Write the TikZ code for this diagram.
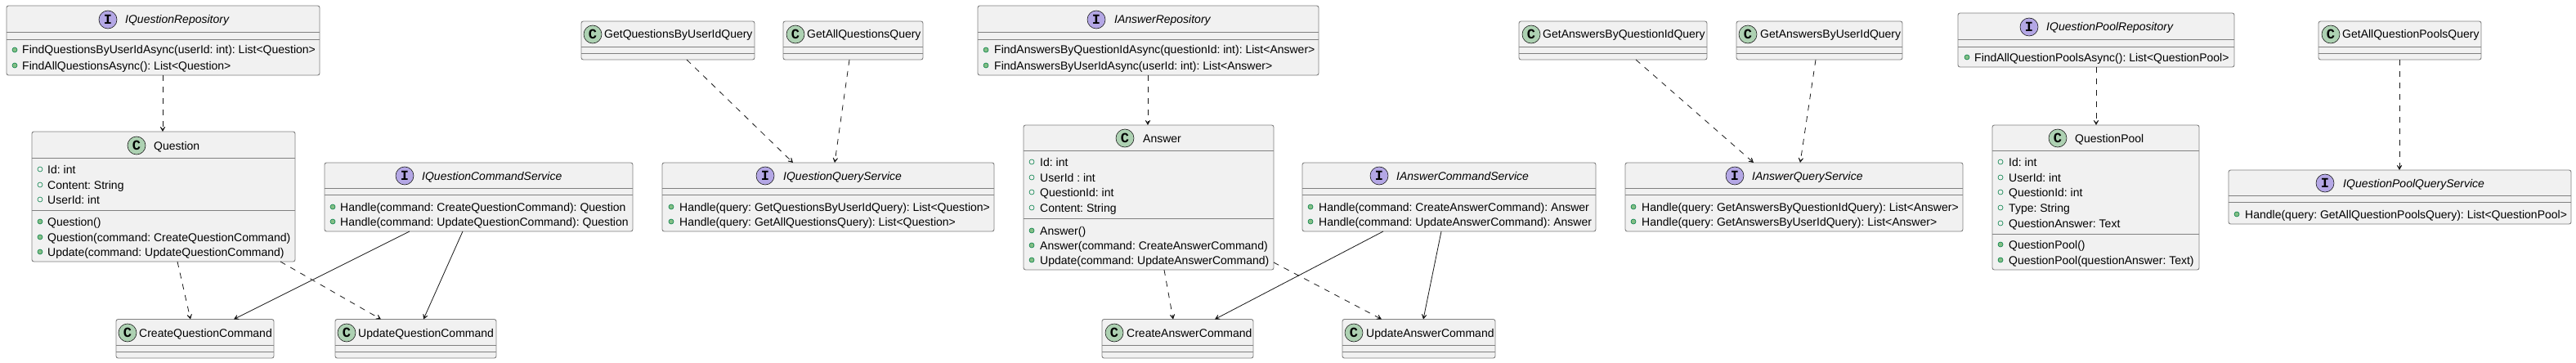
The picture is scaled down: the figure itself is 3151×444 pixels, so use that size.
\documentclass[tikz,border=0pt]{standalone}
\usepackage{fontspec}
\setmainfont{Liberation Sans}
\newfontfamily\iconfamily{Liberation Mono}
\usetikzlibrary{arrows.meta}
\definecolor{lc}{HTML}{181818}
\definecolor{bc}{HTML}{808080}
\definecolor{bg}{HTML}{F1F1F1}
\definecolor{cfill}{HTML}{ADD1B2}
\definecolor{ifill}{HTML}{B4A7E5}
\definecolor{mk}{HTML}{038048}
\definecolor{mkfill}{HTML}{84BE84}
\newcommand\memberfont{\frenchspacing\fontsize{14pt}{16pt}\selectfont}
\newcommand\iconfont{\iconfamily\bfseries\fontsize{17pt}{17pt}\selectfont}
\tikzset{
  umlbox/.style={draw=bc, line width=0.9pt, fill=bg, rounded corners=2.5pt, inner sep=0pt, outer sep=0pt},
  sepline/.style={draw=bc, line width=0.9pt},
  icon/.style={circle, draw=lc, line width=0.6pt, minimum size=22pt, inner sep=0pt, font=\iconfont},
  txt/.style={anchor=base west, inner sep=0pt, font=\memberfont},
  ttl/.style={anchor=base west, inner sep=0pt, font=\memberfont},
  ittl/.style={anchor=base west, inner sep=0pt, font=\memberfont\itshape},
  fieldmk/.style={draw=mk, line width=0.6pt},
  methmk/.style={draw=mk, fill=mkfill, line width=0.6pt},
  dep/.style={draw=lc, line width=0.8pt, dash pattern=on 7pt off 7pt, -{Stealth[length=9pt,width=10pt,inset=6pt]}},
  assoc/.style={draw=lc, line width=0.8pt, -{Stealth[length=9pt,width=10pt,inset=6pt]}},
}
\newcounter{rc}
\newcommand\ubox[5]{\node[umlbox, minimum width={#4pt-#2pt}, minimum height={#5pt-#3pt}] (#1) at ({(#2+#4)/2},{(#3+#5)/2}) {};}
\newcommand\usep[2]{\draw[sepline] (#1.west |- 0,#2) -- (#1.east |- 0,#2);}
\newcommand\cicon[3]{\node[icon, fill=cfill] (#1) at (#2,#3) {C};}
\newcommand\iicon[3]{\node[icon, fill=ifill] (#1) at (#2,#3) {I};}
\newcommand\ctitle[4]{\node[ttl] (#1) at (#2,#3+5) {#4};}
\newcommand\ititle[4]{\node[ittl] (#1) at (#2,#3+5) {#4};}
\newcommand\frow[4]{\stepcounter{rc}\draw[fieldmk] (#1,#3) circle (3pt);\node[txt] (r\arabic{rc}) at (#2,#3+5) {#4};}
\newcommand\mrow[4]{\stepcounter{rc}\filldraw[methmk] (#1,#3) circle (3pt);\node[txt] (r\arabic{rc}) at (#2,#3+5) {#4};}
% small class: name, x1, x2, iconx, textx, text
\newcommand\smallclass[6]{%
  \ubox{#1}{#2}{26}{#3}{73}\usep{#1}{57}\usep{#1}{65}%
  \cicon{#1-i}{#4}{42}\ctitle{#1-t}{#5}{42}{#6}}
\newcommand\cmdclass[6]{%
  \ubox{#1}{#2}{390.5}{#3}{438}\usep{#1}{422}\usep{#1}{430}%
  \cicon{#1-i}{#4}{407}\ctitle{#1-t}{#5}{407}{#6}}
\begin{document}
\begin{tikzpicture}[x=1pt, y=-1pt]
\fill[white] (0,0) rectangle (3151,444);
\useasboundingbox (0,0) rectangle (3151,444);

% ---------- IQuestionRepository
\ubox{iqr}{8}{7}{391}{92}
\usep{iqr}{39}\usep{iqr}{48}
\iicon{iqr-i}{132}{24}
\ititle{iqr-t}{153}{24}{IQuestionRepository}
\mrow{18}{27}{61}{FindQuestionsByUserIdAsync(userId: int): List<Question>}
\mrow{18}{27}{80}{FindAllQuestionsAsync(): List<Question>}

% ---------- Question
\ubox{q}{39}{161}{361}{320}
\usep{q}{193}\usep{q}{257}
\cicon{q-i}{167}{178}
\ctitle{q-t}{188}{178}{Question}
\frow{49}{58}{207}{Id: int}
\frow{49}{58}{226}{Content: String}
\frow{49}{58}{244}{UserId: int}
\mrow{49}{58}{271}{Question()}
\mrow{49}{58}{290}{Question(command: CreateQuestionCommand)}
\mrow{49}{58}{308}{Update(command: UpdateQuestionCommand)}

% ---------- IQuestionCommandService
\ubox{iqcs}{397}{199}{774}{283}
\usep{iqcs}{230}\usep{iqcs}{238}
\iicon{iqcs-i}{495}{215}
\ititle{iqcs-t}{516}{215}{IQuestionCommandService}
\mrow{407}{416}{253}{Handle(command: CreateQuestionCommand): Question}
\mrow{407}{416}{271}{Handle(command: UpdateQuestionCommand): Question}

% ---------- commands (questions)
\cmdclass{cqc}{142}{335}{156}{170}{CreateQuestionCommand}
\cmdclass{uqc}{410}{607}{424}{438}{UpdateQuestionCommand}

% ---------- question queries
\smallclass{gqbu}{711}{923}{725}{739}{GetQuestionsByUserIdQuery}
\smallclass{gaqq}{958}{1129}{973}{987}{GetAllQuestionsQuery}

\ubox{iqqs}{810}{199}{1216}{283}
\usep{iqqs}{230}\usep{iqqs}{238}
\iicon{iqqs-i}{936}{215}
\ititle{iqqs-t}{958}{215}{IQuestionQueryService}
\mrow{821}{831}{253}{Handle(query: GetQuestionsByUserIdQuery): List<Question>}
\mrow{821}{831}{271}{Handle(query: GetAllQuestionsQuery): List<Question>}

% ---------- IAnswerRepository
\ubox{iar}{1196}{7}{1613}{92}
\usep{iar}{39}\usep{iar}{48}
\iicon{iar-i}{1341}{24}
\ititle{iar-t}{1363}{24}{IAnswerRepository}
\mrow{1206}{1216}{61}{FindAnswersByQuestionIdAsync(questionId: int): List<Answer>}
\mrow{1206}{1216}{80}{FindAnswersByUserIdAsync(userId: int): List<Answer>}

% ---------- Answer
\ubox{ans}{1252}{153}{1558}{330}
\usep{ans}{184}\usep{ans}{267}
\cicon{ans-i}{1376}{169}
\ctitle{ans-t}{1398}{169}{Answer}
\frow{1262}{1272}{198}{Id: int}
\frow{1262}{1272}{217}{UserId : int}
\frow{1262}{1272}{235}{QuestionId: int}
\frow{1262}{1272}{254}{Content: String}
\mrow{1262}{1272}{282}{Answer()}
\mrow{1262}{1272}{300}{Answer(command: CreateAnswerCommand)}
\mrow{1262}{1272}{318}{Update(command: UpdateAnswerCommand)}

% ---------- IAnswerCommandService
\ubox{iacs}{1593}{199}{1952}{283}
\usep{iacs}{230}\usep{iacs}{238}
\iicon{iacs-i}{1687}{215}
\ititle{iacs-t}{1708}{215}{IAnswerCommandService}
\mrow{1603}{1613}{253}{Handle(command: CreateAnswerCommand): Answer}
\mrow{1603}{1613}{271}{Handle(command: UpdateAnswerCommand): Answer}

\cmdclass{cac}{1348}{1533}{1363}{1378}{CreateAnswerCommand}
\cmdclass{uac}{1642}{1829}{1656}{1671}{UpdateAnswerCommand}

% ---------- answer queries
\smallclass{gabq}{1858}{2088}{1873}{1887}{GetAnswersByQuestionIdQuery}
\smallclass{gabu}{2124}{2327}{2138}{2153}{GetAnswersByUserIdQuery}

\ubox{iaqs}{1988}{199}{2401}{283}
\usep{iaqs}{230}\usep{iaqs}{238}
\iicon{iaqs-i}{2122}{215}
\ititle{iaqs-t}{2143}{215}{IAnswerQueryService}
\mrow{1998}{2008}{253}{Handle(query: GetAnswersByQuestionIdQuery): List<Answer>}
\mrow{1998}{2008}{271}{Handle(query: GetAnswersByUserIdQuery): List<Answer>}

% ---------- IQuestionPoolRepository
\ubox{iqpr}{2395}{16}{2733}{82}
\usep{iqpr}{48}\usep{iqpr}{57}
\iicon{iqpr-i}{2482}{33}
\ititle{iqpr-t}{2503}{33}{IQuestionPoolRepository}
\mrow{2406}{2415}{70}{FindAllQuestionPoolsAsync(): List<QuestionPool>}

% ---------- QuestionPool
\ubox{qp}{2437}{153}{2690}{330}
\usep{qp}{184}\usep{qp}{286}
\cicon{qp-i}{2517}{169}
\ctitle{qp-t}{2538}{169}{QuestionPool}
\frow{2447}{2457}{198}{Id: int}
\frow{2447}{2457}{217}{UserId: int}
\frow{2447}{2457}{235}{QuestionId: int}
\frow{2447}{2457}{254}{Type: String}
\frow{2447}{2457}{273}{QuestionAnswer: Text}
\mrow{2447}{2457}{299}{QuestionPool()}
\mrow{2447}{2457}{318}{QuestionPool(questionAnswer: Text)}

% ---------- question pool query
\smallclass{gaqp}{2836}{3035}{2851}{2865}{GetAllQuestionPoolsQuery}

\ubox{iqpqs}{2726}{208}{3145}{274}
\usep{iqpqs}{239}\usep{iqpqs}{247}
\iicon{iqpqs-i}{2844}{224}
\ititle{iqpqs-t}{2866}{224}{IQuestionPoolQueryService}
\mrow{2736}{2746}{262}{Handle(query: GetAllQuestionPoolsQuery): List<QuestionPool>}

% ---------- connectors
\draw[dep] (iqr.south -| 199,0) -- (q.north -| 199,0);
\draw[dep] (q.south -| 217,0) -- (cqc.north -| 233,0);
\draw[dep] (q.south -| 343,0) -- (uqc.north -| 466,0);
\draw[assoc] (iqcs.south -| 501,0) -- (cqc.north -| 286,0);
\draw[assoc] (iqcs.south -| 566,0) -- (uqc.north -| 518,0);
\draw[dep] (gqbu.south -| 840,0) -- (iqqs.north -| 970,0);
\draw[dep] (gaqq.south -| 1039,0) -- (iqqs.north -| 1021,0);
\draw[dep] (iar.south -| 1404,0) -- (ans.north -| 1404,0);
\draw[dep] (ans.south -| 1424,0) -- (cac.north -| 1435,0);
\draw[dep] (ans.east |- 0,321) -- (uac.north -| 1690,0);
\draw[assoc] (iacs.south -| 1692,0) -- (cac.north -| 1486,0);
\draw[assoc] (iacs.south -| 1763,0) -- (uac.north -| 1741,0);
\draw[dep] (gabq.south -| 2001,0) -- (iaqs.north -| 2145,0);
\draw[dep] (gabu.south -| 2221,0) -- (iaqs.north -| 2202,0);
\draw[dep] (iqpr.south -| 2564,0) -- (qp.north -| 2564,0);
\draw[dep] (gaqp.south -| 2935,0) -- (iqpqs.north -| 2935,0);
\end{tikzpicture}
\end{document}
